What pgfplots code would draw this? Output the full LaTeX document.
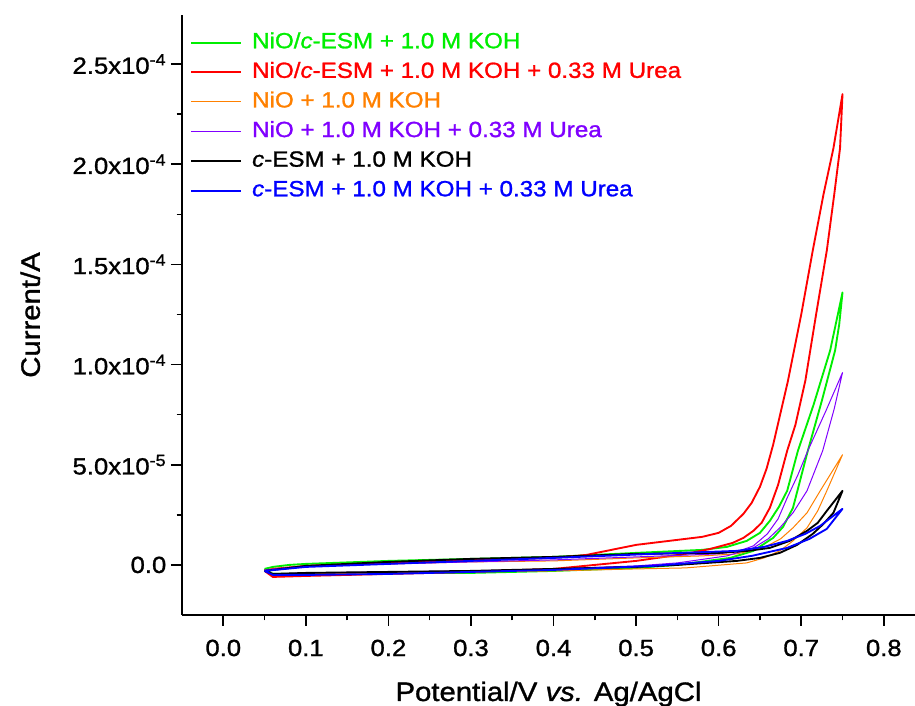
\documentclass[border=0pt]{standalone}
\usepackage{fontspec}
\setmainfont{Liberation Sans}[FakeStretch=1.1,RawFeature={embolden=1.2}]
\usepackage{pgfplots}
\pgfplotsset{compat=1.18}
\definecolor{cGreen}{HTML}{00EE00}
\definecolor{cRed}{HTML}{FF0000}
\definecolor{cOrange}{HTML}{FF8000}
\definecolor{cPurple}{HTML}{8000FF}
\definecolor{cBlue}{HTML}{0000FF}

\begin{document}
\begin{tikzpicture}
\begin{axis}[
  name=ax,
  scale only axis,
  width=549.75pt,
  height=450pt,
  xmin=-0.05, xmax=0.8378,
  ymin=-2.5e-5, ymax=2.745e-4,
  axis x line*=bottom,
  axis y line*=left,
  axis line style={line width=1.2pt,-},
  tick style={line width=1.2pt,black},
  tick align=outside,
  major tick length=8.25pt,
  minor tick length=4pt,
  xtick={0,0.1,0.2,0.3,0.4,0.5,0.6,0.7,0.8},
  xticklabels={0.0,0.1,0.2,0.3,0.4,0.5,0.6,0.7,0.8},
  minor x tick num=1,
  ytick={0,5e-5,1e-4,1.5e-4,2e-4,2.5e-4},
  yticklabels={0.0,5.0x10\textsuperscript{-5},1.0x10\textsuperscript{-4},1.5x10\textsuperscript{-4},2.0x10\textsuperscript{-4},2.5x10\textsuperscript{-4}},
  minor y tick num=1,
  scaled y ticks=false,
  tick label style={font=\fontsize{17.5}{20}\selectfont},
  xticklabel style={yshift=-6.75pt},
  label style={font=\fontsize{20}{24}\selectfont},
  xlabel={Potential/V \textit{vs.} Ag/AgCl},
  xlabel style={at={(axis description cs:0.5,0)},anchor=base,yshift=-64.5pt},
  ylabel={Current/A},
  ylabel style={at={(axis description cs:-0.207,0.5)},anchor=center},
  legend cell align=left,
  legend image code/.code={\draw[#1] (0pt,0pt) -- (37.5pt,0pt); \path (45pt,0pt);},
  legend style={at={(rel axis cs:0,1)},anchor=north west,xshift=6pt,yshift=-12.75pt,
    draw=none,fill=none,inner sep=0pt,row sep=6.7pt,
    nodes={inner sep=0pt,text height=12pt,text depth=3.5pt},
    font=\fontsize{16.5}{19}\selectfont},
  every axis plot/.append style={line join=round},
]
\addplot[cGreen,line width=1.4pt] coordinates {
(0.05,-0.20e-5) (0.06,-0.10e-5) (0.08,0.0) (0.1,0.05e-5) (0.2,0.2e-5) (0.3,0.3e-5) (0.4,0.4e-5) (0.5,0.6e-5) (0.58,0.75e-5) (0.61,0.9e-5) (0.634,1.2e-5) (0.65,1.6e-5) (0.662,2.2e-5) (0.673,2.9e-5) (0.683,3.7e-5) (0.696,5.7e-5) (0.715,8.0e-5) (0.735,10.7e-5) (0.75,13.6e-5)
(0.746,12.0e-5) (0.741,10.7e-5) (0.725,8.2e-5) (0.708,5.7e-5) (0.69,2.85e-5) (0.678,1.9e-5) (0.666,1.35e-5) (0.642,0.7e-5) (0.614,0.35e-5) (0.55,0.0) (0.5,-0.15e-5) (0.4,-0.3e-5) (0.3,-0.4e-5) (0.2,-0.4e-5) (0.1,-0.45e-5) (0.06,-0.45e-5) (0.05,-0.2e-5)
};
\addlegendentry{\textcolor{cGreen}{NiO/\textit{c}-ESM + 1.0 M KOH}}
\addplot[cRed,line width=1.4pt] coordinates {
(0.05,-0.3e-5) (0.06,-0.2e-5) (0.1,-0.05e-5) (0.2,0.1e-5) (0.3,0.25e-5) (0.4,0.35e-5) (0.44,0.5e-5) (0.47,0.75e-5) (0.5,1.0e-5) (0.54,1.2e-5) (0.58,1.4e-5) (0.60,1.6e-5) (0.615,1.95e-5) (0.63,2.55e-5) (0.64,3.1e-5) (0.65,3.9e-5) (0.658,4.8e-5) (0.666,6.0e-5) (0.684,9.2e-5) (0.70,12.5e-5) (0.714,15.7e-5) (0.727,18.5e-5) (0.739,20.8e-5) (0.75,23.5e-5)
(0.747,20.8e-5) (0.74,18.5e-5) (0.731,15.7e-5) (0.718,12.5e-5) (0.705,9.2e-5) (0.693,7.0e-5) (0.683,5.7e-5) (0.672,4.0e-5) (0.662,2.85e-5) (0.652,2.1e-5) (0.642,1.7e-5) (0.63,1.35e-5) (0.617,1.1e-5) (0.59,0.8e-5) (0.56,0.55e-5) (0.5,0.2e-5) (0.45,0.0) (0.4,-0.2e-5) (0.3,-0.35e-5) (0.2,-0.45e-5) (0.1,-0.55e-5) (0.06,-0.6e-5) (0.05,-0.3e-5)
};
\addlegendentry{\textcolor{cRed}{NiO/\textit{c}-ESM + 1.0 M KOH + 0.33 M Urea}}
\addplot[cOrange,line width=0.75pt] coordinates {
(0.05,-0.25e-5) (0.1,-0.05e-5) (0.2,0.05e-5) (0.3,0.15e-5) (0.4,0.2e-5) (0.5,0.35e-5) (0.58,0.45e-5) (0.622,0.55e-5) (0.654,0.85e-5) (0.675,1.3e-5) (0.69,1.85e-5) (0.707,2.6e-5) (0.723,3.7e-5) (0.75,5.5e-5)
(0.731,3.7e-5) (0.72,2.7e-5) (0.707,1.85e-5) (0.69,1.2e-5) (0.674,0.7e-5) (0.655,0.35e-5) (0.634,0.1e-5) (0.56,-0.15e-5) (0.5,-0.2e-5) (0.4,-0.3e-5) (0.3,-0.35e-5) (0.2,-0.4e-5) (0.1,-0.45e-5) (0.06,-0.45e-5) (0.05,-0.25e-5)
};
\addlegendentry{\textcolor{cOrange}{NiO + 1.0 M KOH}}
\addplot[cPurple,line width=0.75pt] coordinates {
(0.05,-0.25e-5) (0.1,-0.05e-5) (0.2,0.05e-5) (0.3,0.15e-5) (0.4,0.25e-5) (0.5,0.4e-5) (0.6,0.55e-5) (0.625,0.7e-5) (0.642,0.95e-5) (0.659,1.55e-5) (0.672,2.3e-5) (0.683,3.35e-5) (0.696,4.5e-5) (0.708,5.7e-5) (0.73,7.7e-5) (0.75,9.6e-5)
(0.74,7.8e-5) (0.726,5.7e-5) (0.707,3.7e-5) (0.69,2.6e-5) (0.674,1.85e-5) (0.66,1.3e-5) (0.642,0.85e-5) (0.61,0.45e-5) (0.55,0.1e-5) (0.5,-0.05e-5) (0.4,-0.2e-5) (0.3,-0.3e-5) (0.2,-0.35e-5) (0.1,-0.4e-5) (0.06,-0.45e-5) (0.05,-0.25e-5)
};
\addlegendentry{\textcolor{cPurple}{NiO + 1.0 M KOH + 0.33 M Urea}}
\addplot[black,line width=1.4pt] coordinates {
(0.05,-0.3e-5) (0.1,-0.05e-5) (0.2,0.15e-5) (0.3,0.3e-5) (0.4,0.4e-5) (0.5,0.55e-5) (0.6,0.6e-5) (0.635,0.7e-5) (0.662,0.85e-5) (0.686,1.2e-5) (0.707,1.7e-5) (0.72,2.1e-5) (0.731,2.7e-5) (0.75,3.7e-5)
(0.739,2.6e-5) (0.727,2.05e-5) (0.714,1.55e-5) (0.695,1.0e-5) (0.674,0.6e-5) (0.65,0.35e-5) (0.622,0.2e-5) (0.55,0.0) (0.5,-0.1e-5) (0.4,-0.2e-5) (0.3,-0.3e-5) (0.2,-0.35e-5) (0.1,-0.4e-5) (0.06,-0.45e-5) (0.05,-0.3e-5)
};
\addlegendentry{\textcolor{black}{\textit{c}-ESM + 1.0 M KOH}}
\addplot[cBlue,line width=1.4pt] coordinates {
(0.05,-0.3e-5) (0.1,-0.1e-5) (0.2,0.05e-5) (0.3,0.2e-5) (0.4,0.35e-5) (0.52,0.55e-5) (0.622,0.7e-5) (0.655,0.9e-5) (0.683,1.2e-5) (0.705,1.55e-5) (0.723,1.95e-5) (0.75,2.8e-5)
(0.731,1.8e-5) (0.71,1.3e-5) (0.683,0.85e-5) (0.64,0.45e-5) (0.60,0.2e-5) (0.52,-0.05e-5) (0.4,-0.25e-5) (0.3,-0.35e-5) (0.2,-0.45e-5) (0.1,-0.5e-5) (0.06,-0.5e-5) (0.05,-0.3e-5)
};
\addlegendentry{\textcolor{cBlue}{\textit{c}-ESM + 1.0 M KOH + 0.33 M Urea}}
\end{axis}
\pgfresetboundingbox
\path[use as bounding box] ([xshift=-136.5pt,yshift=-68.25pt]ax.south west) rectangle ([yshift=11.25pt]ax.north east);
\end{tikzpicture}
\end{document}
